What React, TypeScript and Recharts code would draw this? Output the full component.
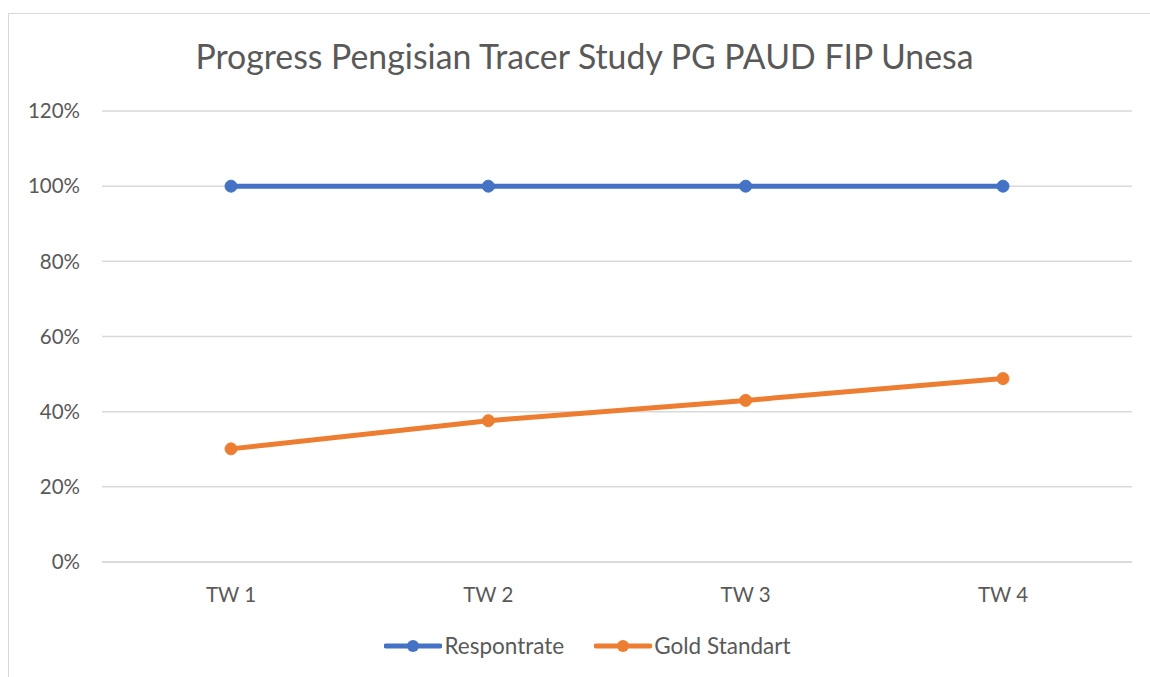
import { LineChart, Line, XAxis, YAxis, CartesianGrid, Legend } from 'recharts';

const categories = ['TW 1', 'TW 2', 'TW 3', 'TW 4'];
const respontrate = [1, 1, 1, 1];
const goldStandart = [0.301, 0.376, 0.43, 0.488];
const yTicks = [0, 0.2, 0.4, 0.6, 0.8, 1, 1.2];

const series = [
  { key: 'Respontrate', color: '#4472C4' },
  { key: 'Gold Standart', color: '#ED7D31' },
];

const data = categories.map((name, i) => ({
  name,
  Respontrate: respontrate[i],
  'Gold Standart': goldStandart[i],
}));

const font = 'Lato, "Open Sans", sans-serif';
const textColor = '#595959';

const formatPercent = (value: number) => `${Math.round(value * 100)}%`;

function LegendContent() {
  return (
    <div
      style={{
        display: 'flex',
        justifyContent: 'center',
        gap: 30,
        paddingLeft: 34,
        paddingTop: 12,
        fontFamily: font,
        fontSize: 22.5,
        color: textColor,
      }}
    >
      {series.map((s) => (
        <div key={s.key} style={{ display: 'flex', alignItems: 'center' }}>
          <svg width={58} height={14} style={{ marginRight: 2 }}>
            <line x1={2} y1={7} x2={56} y2={7} stroke={s.color} strokeWidth={5} strokeLinecap="round" />
            <circle cx={29} cy={7} r={6} fill={s.color} />
          </svg>
          <span>{s.key}</span>
        </div>
      ))}
    </div>
  );
}

export default function App() {
  return (
    <div
      style={{
        position: 'fixed',
        left: 8,
        top: 13,
        right: 0,
        bottom: 0,
        overflow: 'hidden',
        borderTop: '1px solid #d9d9d9',
        borderLeft: '1px solid #d9d9d9',
        background: '#fff',
      }}
    >
      <div
        style={{
          position: 'absolute',
          left: 0,
          top: 22,
          width: 1151,
          textAlign: 'center',
          fontFamily: font,
          fontSize: 33.8,
          color: textColor,
          whiteSpace: 'nowrap',
        }}
      >
        Progress Pengisian Tracer Study PG PAUD FIP Unesa
      </div>
      <LineChart
        width={1141}
        height={663}
        data={data}
        margin={{ top: 97, right: 18, left: 0, bottom: 0 }}
      >
        <CartesianGrid vertical={false} stroke="#d9d9d9" strokeWidth={1.5} />
        <XAxis
          dataKey="name"
          padding={{ left: 129, right: 129 }}
          axisLine={{ stroke: '#d9d9d9', strokeWidth: 1.5 }}
          tickLine={false}
          tickSize={0}
          tickMargin={25}
          height={58}
          tick={{ fill: textColor, fontSize: 20.5, fontFamily: font }}
        />
        <YAxis
          domain={[0, 1.2]}
          ticks={yTicks}
          tickFormatter={formatPercent}
          axisLine={false}
          tickLine={false}
          tickSize={0}
          tickMargin={22}
          width={93}
          tick={{ fill: textColor, fontSize: 20.5, fontFamily: font }}
        />
        <Legend verticalAlign="bottom" height={57} content={<LegendContent />} />
        {series.map((s) => (
          <Line
            key={s.key}
            type="linear"
            dataKey={s.key}
            stroke={s.color}
            strokeWidth={5}
            dot={{ r: 6, fill: s.color, stroke: s.color, strokeWidth: 1 }}
            isAnimationActive={false}
          />
        ))}
      </LineChart>
    </div>
  );
}
